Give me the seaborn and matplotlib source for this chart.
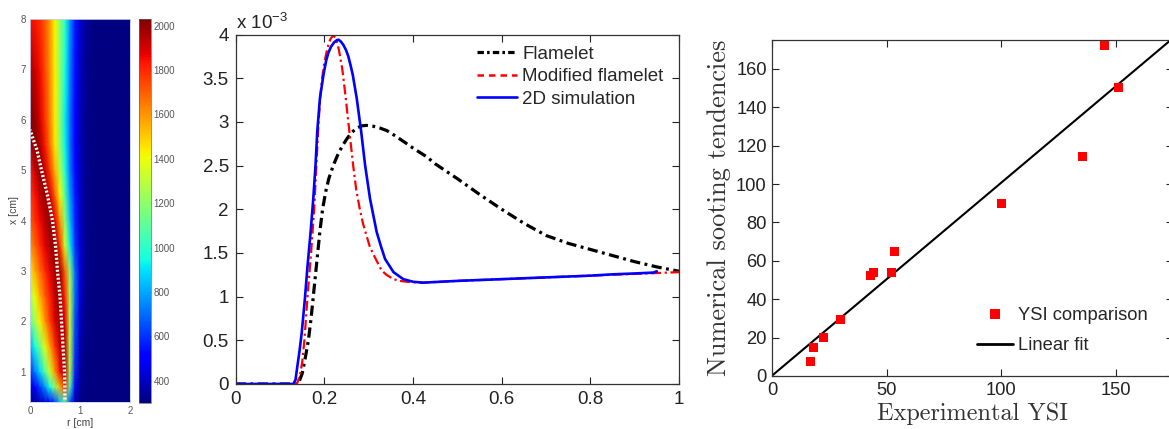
import numpy as np
import pandas as pd
import matplotlib
matplotlib.use("Agg")
import matplotlib.pyplot as plt
from matplotlib.lines import Line2D
import seaborn as sns

# ---------------- Panel 1: temperature field ----------------
r_cm = [0.0, 0.1, 0.2, 0.3, 0.4, 0.5, 0.6, 0.7, 0.8, 0.9, 1.0, 1.1, 1.2, 1.4, 2.0]
x_cm = [0.4, 0.7, 1.0, 1.5, 2.0, 2.5, 3.0, 3.5, 4.0, 4.5, 5.0, 5.5, 6.0, 7.0, 8.0]
T_x04 = [330, 350, 380, 430, 500, 620, 850, 1100, 650, 380, 320, 305, 300, 300, 300]
T_x07 = [450, 520, 620, 760, 950, 1200, 1550, 1800, 1050, 480, 340, 310, 300, 300, 300]
T_x10 = [600, 720, 880, 1080, 1330, 1600, 1850, 1980, 1250, 580, 360, 315, 300, 300, 300]
T_x15 = [800, 950, 1150, 1370, 1580, 1780, 1940, 1960, 1300, 620, 380, 320, 302, 300, 300]
T_x20 = [1080, 1250, 1430, 1600, 1760, 1890, 2000, 1880, 1300, 650, 400, 330, 305, 300, 300]
T_x25 = [1250, 1400, 1560, 1700, 1820, 1930, 2010, 1800, 1280, 700, 430, 340, 306, 300, 300]
T_x30 = [1450, 1560, 1680, 1790, 1880, 1970, 1980, 1700, 1200, 700, 440, 345, 308, 300, 300]
T_x35 = [1600, 1690, 1790, 1880, 1960, 2020, 1780, 1350, 920, 610, 430, 345, 308, 300, 300]
T_x40 = [1700, 1780, 1860, 1940, 2010, 1880, 1600, 1200, 840, 580, 420, 340, 308, 300, 300]
T_x45 = [1760, 1840, 1930, 2000, 1900, 1700, 1420, 1080, 780, 560, 415, 340, 308, 300, 300]
T_x50 = [1820, 1920, 2020, 1920, 1760, 1550, 1280, 970, 720, 530, 405, 338, 308, 300, 300]
T_x55 = [1960, 2020, 1960, 1830, 1660, 1450, 1200, 930, 700, 520, 400, 338, 308, 300, 300]
T_x60 = [2030, 1990, 1900, 1780, 1630, 1440, 1190, 920, 700, 520, 400, 340, 310, 300, 300]
T_x70 = [1960, 1920, 1850, 1740, 1610, 1430, 1200, 950, 730, 540, 410, 345, 312, 300, 300]
T_x80 = [1850, 1830, 1790, 1710, 1590, 1420, 1200, 1000, 760, 560, 430, 360, 320, 300, 300]
T_rows = [T_x04, T_x07, T_x10, T_x15, T_x20, T_x25, T_x30, T_x35, T_x40,
          T_x45, T_x50, T_x55, T_x60, T_x70, T_x80]

front_r = [0.70, 0.69, 0.66, 0.63, 0.60, 0.55, 0.51, 0.45, 0.35, 0.23, 0.14, 0.0]
front_x = [0.45, 1.0, 1.5, 2.0, 2.5, 3.0, 3.5, 4.0, 4.5, 5.0, 5.4, 5.8]

cbar_ticks = [400, 600, 800, 1000, 1200, 1400, 1600, 1800, 2000]
T_min, T_max = 300, 2030

# ---------------- Panel 2: soot profiles (units of 1e-3) ----------------
x_flamelet = [0.0, 0.10, 0.13, 0.141, 0.150, 0.157, 0.164, 0.170, 0.175, 0.180, 0.185,
              0.190, 0.196, 0.203, 0.210, 0.220, 0.230, 0.240, 0.250, 0.260, 0.273,
              0.285, 0.295, 0.31, 0.325, 0.341, 0.36, 0.386, 0.40, 0.431, 0.45,
              0.50, 0.55, 0.60, 0.65, 0.70, 0.75, 0.80, 0.85, 0.90, 0.95, 1.0]
y_flamelet = [0.0, 0.0, 0.0, 0.0, 0.12, 0.30, 0.50, 0.75, 1.00, 1.25, 1.50,
              1.75, 2.00, 2.20, 2.35, 2.50, 2.62, 2.72, 2.80, 2.87, 2.93,
              2.955, 2.96, 2.95, 2.93, 2.90, 2.84, 2.75, 2.70, 2.60, 2.52,
              2.35, 2.17, 2.00, 1.84, 1.70, 1.61, 1.54, 1.47, 1.40, 1.34, 1.29]

x_modified = [0.0, 0.10, 0.13, 0.138, 0.145, 0.150, 0.155, 0.162, 0.170, 0.177, 0.182,
              0.187, 0.191, 0.195, 0.200, 0.205, 0.210, 0.214, 0.220, 0.225, 0.229,
              0.233, 0.237, 0.240, 0.243, 0.248, 0.254, 0.260, 0.265, 0.272, 0.280,
              0.287, 0.295, 0.302, 0.309, 0.318, 0.329, 0.340, 0.356, 0.370, 0.386,
              0.40, 0.42, 0.50, 0.60, 0.70, 0.80, 0.90, 1.0]
y_modified = [0.0, 0.0, 0.0, 0.0, 0.10, 0.25, 0.50, 1.00, 1.50, 2.00, 2.50,
              3.00, 3.30, 3.50, 3.68, 3.80, 3.90, 3.95, 3.99, 3.96, 3.90,
              3.82, 3.70, 3.62, 3.50, 3.28, 3.00, 2.73, 2.50, 2.22, 2.00,
              1.84, 1.70, 1.58, 1.50, 1.41, 1.30, 1.25, 1.20, 1.18, 1.17,
              1.165, 1.16, 1.18, 1.20, 1.22, 1.24, 1.26, 1.28]

x_2d = [0.0, 0.10, 0.125, 0.130, 0.135, 0.139, 0.144, 0.149, 0.156, 0.162, 0.169,
        0.175, 0.180, 0.184, 0.190, 0.198, 0.204, 0.209, 0.215, 0.222, 0.228,
        0.232, 0.237, 0.243, 0.249, 0.254, 0.259, 0.264, 0.273, 0.283, 0.292,
        0.303, 0.318, 0.328, 0.337, 0.356, 0.378, 0.40, 0.423, 0.50, 0.55,
        0.60, 0.70, 0.80, 0.85, 0.90, 0.942, 0.95]
y_2d = [0.0, 0.0, 0.0, 0.0, 0.05, 0.20, 0.38, 0.59, 0.97, 1.35, 1.74,
        2.12, 2.50, 2.89, 3.27, 3.54, 3.70, 3.79, 3.86, 3.91, 3.935,
        3.94, 3.92, 3.88, 3.82, 3.75, 3.65, 3.54, 3.27, 2.89, 2.50,
        2.12, 1.74, 1.57, 1.43, 1.28, 1.20, 1.17, 1.16, 1.18, 1.19,
        1.20, 1.22, 1.24, 1.255, 1.265, 1.275, 1.29]

series_labels = ["Flamelet", "Modified flamelet", "2D simulation"]
x2_ticks = [0, 0.2, 0.4, 0.6, 0.8, 1]
y2_ticks = [0, 0.5, 1, 1.5, 2, 2.5, 3, 3.5, 4]

# ---------------- Panel 3: YSI comparison ----------------
ysi_experimental = [16.7, 18.2, 22.3, 29.7, 43.0, 44.0, 52.1, 53.3, 100.1, 135.2, 145.2, 151.2]
ysi_numerical = [7.5, 14.8, 20.2, 29.7, 52.6, 54.0, 54.0, 64.8, 89.8, 114.3, 172.2, 150.4]
fit_slope = 1.005
fit_intercept = 0.3
fit_range = [0.0, 175.0]
x3_ticks = [0, 50, 100, 150]
y3_ticks = [0, 20, 40, 60, 80, 100, 120, 140, 160]

# ---------------- Figure ----------------
sns.set_style("ticks")
plt.rcParams["font.family"] = ["Liberation Sans", "DejaVu Sans"]
plt.rcParams["mathtext.fontset"] = "custom"
plt.rcParams["mathtext.rm"] = "Liberation Sans"
plt.rcParams["mathtext.it"] = "Liberation Sans"

W, H = 1169, 429
fig = plt.figure(figsize=(W / 100, H / 100), dpi=100)
fig.patch.set_facecolor("white")

def frac(left, top, right, bottom):
    return [left / W, 1 - bottom / H, (right - left) / W, (bottom - top) / H]

# ---- Panel 1 ----
ax1 = fig.add_axes(frac(30, 19, 130, 402))
T = np.array(T_rows, dtype=float)
mesh = ax1.pcolormesh(r_cm, x_cm, T, cmap="jet", vmin=T_min, vmax=T_max,
                      shading="gouraud", rasterized=True)
front_df = pd.DataFrame({"r": front_r, "x": front_x})
sns.lineplot(data=front_df, x="r", y="x", ax=ax1, sort=False, estimator=None,
             color="white", lw=2.4)
ax1.get_lines()[-1].set_linestyle((0, (0.6, 0.6)))
ax1.set_xlim(0, 2)
ax1.set_ylim(0.4, 8)
ax1.set_xticks([0, 1, 2])
ax1.set_yticks([1, 2, 3, 4, 5, 6, 7, 8])
ax1.tick_params(direction="in", length=2, width=0.5, labelsize=7, colors="#555",
                pad=3, top=True, right=True)
ax1.set_xlabel("r [cm]", fontsize=7.5, color="#444", labelpad=1)
ax1.set_ylabel("x [cm]", fontsize=7.5, color="#444", labelpad=1)
for s in ax1.spines.values():
    s.set_color("#c8d0f0")
    s.set_linewidth(0.6)

cax = fig.add_axes(frac(139, 19, 151, 403))
cb = fig.colorbar(mesh, cax=cax, ticks=cbar_ticks)
cb.outline.set_linewidth(0.5)
cb.outline.set_edgecolor("#666")
cax.tick_params(direction="in", length=2.5, width=0.5, labelsize=7, colors="#555",
                left=True, right=True, pad=2)

# ---- Panel 2 ----
ax2 = fig.add_axes(frac(235.7, 34.5, 679, 384))
sns.lineplot(x=x_flamelet, y=y_flamelet, ax=ax2, sort=False, estimator=None,
             color="black", lw=2.3)
ax2.get_lines()[-1].set_linestyle((0, (3.2, 1.4, 0.9, 1.4)))
sns.lineplot(x=x_modified, y=y_modified, ax=ax2, sort=False, estimator=None,
             color="#ff0000", lw=1.6)
ax2.get_lines()[-1].set_linestyle((0, (4.5, 1.6, 1.0, 1.6)))
sns.lineplot(x=x_2d, y=y_2d, ax=ax2, sort=False, estimator=None,
             color="#0000ff", lw=1.9)
ax2.set_xlim(0, 1)
ax2.set_ylim(0, 4)
ax2.set_xticks(x2_ticks)
ax2.set_yticks(y2_ticks)
ax2.set_xticklabels([f"{v:g}" for v in x2_ticks])
ax2.set_yticklabels([f"{v:g}" for v in y2_ticks])
ax2.tick_params(direction="in", length=5, width=0.8, labelsize=13.5, colors="#222",
                top=True, right=True, pad=5)
for s in ax2.spines.values():
    s.set_color("#333")
    s.set_linewidth(0.9)
ax2.text(0.0, 1.016, r"x 10$^{-3}$", transform=ax2.transAxes, fontsize=13.5,
         ha="left", va="baseline", color="#222")
handles2 = [
    Line2D([], [], color="black", lw=2.3, linestyle=(0, (2.0, 1.0, 0.8, 1.0))),
    Line2D([], [], color="#ff0000", lw=1.8, linestyle=(0, (2.6, 2.0))),
    Line2D([], [], color="#0000ff", lw=1.9),
]
ax2.legend(handles2, series_labels, loc="upper left", bbox_to_anchor=(0.545, 0.968),
           frameon=False, fontsize=13.5, handlelength=2.1, handletextpad=0.3,
           labelspacing=0.28, borderpad=0, borderaxespad=0)
ax2.set_xlabel("")
ax2.set_ylabel("")

# ---- Panel 3 ----
ax3 = fig.add_axes(frac(772.3, 40.2, 1173.2, 376))
fit_x = np.array(fit_range)
fit_y = fit_intercept + fit_slope * fit_x
sns.lineplot(x=fit_x, y=fit_y, ax=ax3, color="black", lw=1.5, sort=False,
             estimator=None, label="Linear fit", legend=False)
sns.scatterplot(x=ysi_experimental, y=ysi_numerical, ax=ax3, marker="s", s=42,
                color="#ff0000", edgecolor="none", linewidth=0, zorder=3, legend=False)
ax3.set_xlim(0, 175)
ax3.set_ylim(0, 175)
ax3.set_xticks(x3_ticks)
ax3.set_yticks(y3_ticks)
ax3.tick_params(direction="in", length=5, width=0.8, labelsize=13.2, colors="#222",
                top=True, right=True, pad=4)
for s in ax3.spines.values():
    s.set_color("#333")
    s.set_linewidth(0.9)
ax3.set_xlabel("Experimental YSI", fontfamily="cmr10", fontsize=17.5, color="#333",
               labelpad=3)
ax3.set_ylabel("Numerical sooting tendencies", fontfamily="cmr10", fontsize=19,
               color="#333", labelpad=4)
handles3 = [
    Line2D([], [], color="#ff0000", marker="s", markersize=6.5, lw=0, markeredgewidth=0),
    Line2D([], [], color="black", lw=2.0),
]
ax3.legend(handles3, ["YSI comparison", "Linear fit"], loc="upper left",
           bbox_to_anchor=(0.51, 0.205), frameon=False, fontsize=13.2,
           handlelength=2.0, handletextpad=0.25, labelspacing=0.7,
           borderpad=0, borderaxespad=0)

fig.savefig("out.png", dpi=100, facecolor="white")
